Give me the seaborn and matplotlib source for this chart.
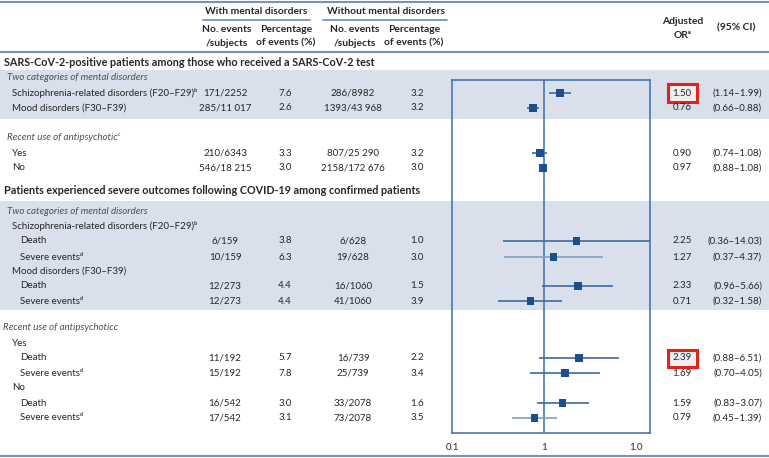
import numpy as np
import pandas as pd
import seaborn as sns
import matplotlib
matplotlib.use("Agg")
import matplotlib.pyplot as plt
from matplotlib.patches import Rectangle
from matplotlib.lines import Line2D

# ---------------- data ----------------
section_titles = [
    "SARS-CoV-2-positive patients among those who received a SARS-CoV-2 test",
    "Patients experienced severe outcomes following COVID-19 among confirmed patients",
]
with_events = ["171/2252", "285/11 017", "210/6343", "546/18 215", "6/159", "10/159",
               "12/273", "12/273", "11/192", "15/192", "16/542", "17/542"]
with_pct = ["7.6", "2.6", "3.3", "3.0", "3.8", "6.3", "4.4", "4.4", "5.7", "7.8", "3.0", "3.1"]
without_events = ["286/8982", "1393/43 968", "807/25 290", "2158/172 676", "6/628", "19/628",
                  "16/1060", "41/1060", "16/739", "25/739", "33/2078", "73/2078"]
without_pct = ["3.2", "3.2", "3.2", "3.0", "1.0", "3.0", "1.5", "3.9", "2.2", "3.4", "1.6", "3.5"]
or_est = [1.50, 0.76, 0.90, 0.97, 2.25, 1.27, 2.33, 0.71, 2.39, 1.69, 1.59, 0.79]
ci_low = [1.14, 0.66, 0.74, 0.88, 0.36, 0.37, 0.96, 0.32, 0.88, 0.70, 0.83, 0.45]
ci_high = [1.99, 0.88, 1.08, 1.08, 14.03, 4.37, 5.66, 1.58, 6.51, 4.05, 3.07, 1.39]
or_labels = ["1.50", "0.76", "0.90", "0.97", "2.25", "1.27", "2.33", "0.71", "2.39", "1.69", "1.59", "0.79"]
ci_labels = ["(1.14–1.99)", "(0.66–0.88)", "(0.74–1.08)", "(0.88–1.08)", "(0.36–14.03)",
             "(0.37–4.37)", "(0.96–5.66)", "(0.32–1.58)", "(0.88–6.51)", "(0.70–4.05)",
             "(0.83–3.07)", "(0.45–1.39)"]
highlighted = [0, 8]
x_ticks = [0.1, 1, 10]
x_tick_labels = ["0.1", "1", "1.0"]

# label rows: (text, style, data index or None)
label_rows = [
    ("Two categories of mental disorders", "it", None),
    ("Schizophrenia-related disorders (F20–F29)ᵇ", "l1", 0),
    ("Mood disorders (F30–F39)", "l1", 1),
    ("Recent use of antipsychoticᶜ", "it", None),
    ("Yes", "l1", 2),
    ("No", "l1", 3),
    ("Two categories of mental disorders", "it", None),
    ("Schizophrenia-related disorders (F20–F29)ᵇ", "l1", None),
    ("Death", "l2", 4),
    ("Severe eventsᵈ", "l2", 5),
    ("Mood disorders (F30–F39)", "l1", None),
    ("Death", "l2", 6),
    ("Severe eventsᵈ", "l2", 7),
    ("Recent use of antipsychoticc", "it2", None),
    ("Yes", "l1", None),
    ("Death", "l2", 8),
    ("Severe eventsᵈ", "l2", 9),
    ("No", "l1", None),
    ("Death", "l2", 10),
    ("Severe eventsᵈ", "l2", 11),
]

# ---------------- layout (pixels) ----------------
W, H = 769, 458
label_y = [77, 93, 108, 138, 153, 168, 211, 226, 241, 257, 271, 286, 301,
           328, 343, 358, 373, 388, 403, 418]
indent = {"it": 7, "it2": 3, "l1": 12, "l2": 20}
section_y = [63, 190]
col_x = [225, 285, 353, 417]
or_x, ci_x = 682, 762
ci_color = ["#3b6aa6"] * 12
ci_color[5] = "#7f9fc9"
ci_color[11] = "#7f9fc9"

sns.set_theme(style="white")
plt.rcParams["font.family"] = ["Lato", "DejaVu Sans"]

fig = plt.figure(figsize=(W / 100, H / 100), dpi=100)
fig.patch.set_facecolor("white")

def fx(x):
    return x / W

def fy(y):
    return 1 - y / H

FS = 7.0
txtc = "#262626"

def T(x, y, s, ha="left", size=FS, weight="normal", style="normal", color=txtc):
    fig.text(fx(x), fy(y), s, ha=ha, va="center", fontsize=size,
             fontweight=weight, fontstyle=style, color=color, zorder=4)

# shaded bands
band_c = "#d9dfeb"
for y0, y1 in [(70, 119), (201, 310)]:
    fig.patches.append(Rectangle((0, fy(y1)), 1, (y1 - y0) / H, transform=fig.transFigure,
                                 facecolor=band_c, edgecolor="none", zorder=0))

# rule lines
rule_c = "#7393bd"
for (x0, x1, y, lw) in [(0, W, 1.5, 1.5), (0, W, 52, 1.5), (0, W, 456, 1.5),
                        (203, 310, 19.5, 1.3), (323, 447, 19.5, 1.3)]:
    fig.lines.append(Line2D([fx(x0), fx(x1)], [fy(y), fy(y)], transform=fig.transFigure,
                            color=rule_c, lw=lw, zorder=1))

# headers
HB = 7.4
T(256, 11, "With mental disorders", ha="center", size=HB, weight="bold")
T(386, 11, "Without mental disorders", ha="center", size=HB, weight="bold")
for cx in (227, 355):
    T(cx, 30, "No. events", ha="center", size=HB, weight="bold")
    T(cx, 43, "/subjects", ha="center", size=HB, weight="bold")
for cx in (286, 414):
    T(cx, 30, "Percentage", ha="center", size=HB, weight="bold")
    T(cx, 43, "of events (%)", ha="center", size=HB, weight="bold")
T(683, 22, "Adjusted", ha="center", size=HB, weight="bold")
T(683, 35, "ORᵃ", ha="center", size=HB, weight="bold")
T(736, 28, "(95% CI)", ha="center", size=HB, weight="bold")

for y, s in zip(section_y, section_titles):
    T(4, y, s, size=7.75, weight="bold")

# labels and values
row_y = [None] * 12
for (text, st, idx), y in zip(label_rows, label_y):
    style = "italic" if st.startswith("it") else "normal"
    T(indent[st], y, text, style=style, color="#505050" if style == "italic" else txtc)
    if idx is not None:
        row_y[idx] = y

for i, y in enumerate(row_y):
    T(col_x[0], y, with_events[i], ha="center")
    T(col_x[1], y, with_pct[i], ha="center")
    T(col_x[2], y, without_events[i], ha="center")
    T(col_x[3], y, without_pct[i], ha="center")
    T(or_x, y, or_labels[i], ha="center")
    T(ci_x, y, ci_labels[i], ha="right")

for i in highlighted:
    y = row_y[i]
    fig.patches.append(Rectangle((fx(668), fy(y + 8.5)), 29 / W, 17 / H, transform=fig.transFigure,
                                 facecolor="#eef0f4", edgecolor="#e2231a", lw=2.2, zorder=3))

# forest plot
ax = fig.add_axes([fx(452), fy(433), (650 - 452) / W, (433 - 80) / H])
ax.set_zorder(2)
ax.set_facecolor("none")
ax.set_xscale("log")
ax.set_xlim(0.1, 14.2)
ax.set_ylim(433, 80)
box_c = "#3d6eaa"
for sp in ax.spines.values():
    sp.set_color(box_c)
    sp.set_linewidth(1.1)
ax.axvline(1, color=box_c, lw=1.1, zorder=1)
ax.hlines(row_y, ci_low, ci_high, colors=ci_color, lw=1.2, zorder=2)
df = pd.DataFrame({"or": or_est, "y": row_y})
sns.scatterplot(data=df, x="or", y="y", marker="s", s=30, color="#1b4f8c",
                edgecolor="none", ax=ax, zorder=3, legend=False)
ax.set_xticks(x_ticks)
ax.set_xticklabels(x_tick_labels)
ax.xaxis.set_minor_locator(matplotlib.ticker.NullLocator())
ax.tick_params(axis="x", length=0, pad=7, labelsize=FS, labelcolor=txtc)
ax.set_yticks([])
ax.set_xlabel("")
ax.set_ylabel("")

fig.savefig("out.png", dpi=100, facecolor="white")
